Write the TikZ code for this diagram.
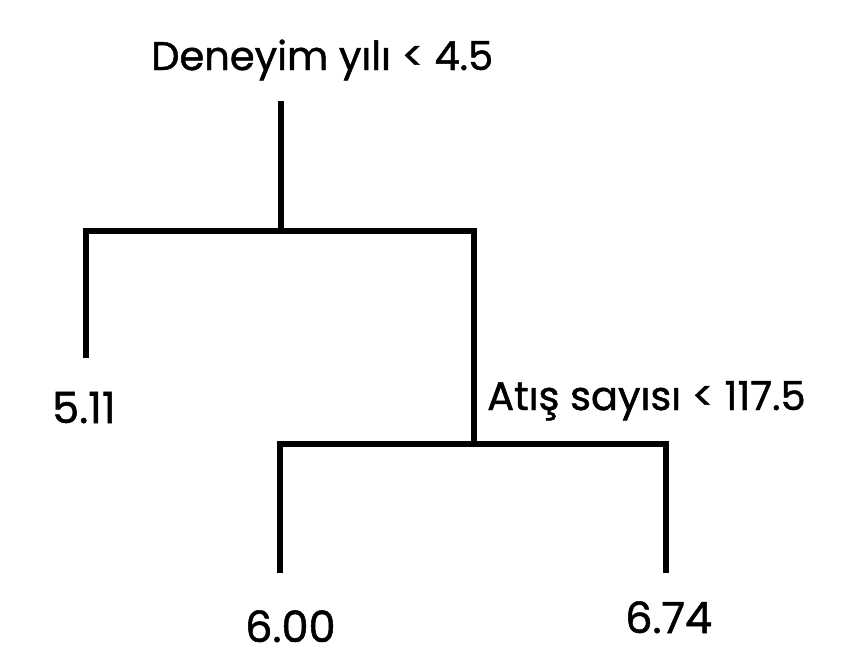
\documentclass[tikz,border=0pt]{standalone}
\usepackage{fontspec}
\setmainfont{Poppins}[FakeBold=1.2]
\begin{document}
\begin{tikzpicture}[x=1pt,y=-1pt,
  lbl/.style={inner sep=0pt, font=\fontsize{40}{44}\selectfont},
  leaf/.style={inner sep=0pt, font=\fontsize{43}{47}\selectfont},
  branch/.style={line width=6pt, line join=miter, line cap=butt, black},
  shade/.style={line width=6pt, line join=miter, line cap=butt, black!25, opacity=0.6}]
\useasboundingbox (0,0) rectangle (864,664);
% labels
\node[lbl, anchor=base west] (root) at (151,70) {Deneyim yılı < 4.5};
\node[lbl, anchor=base west] (split) at (487,410) {Atış sayısı < 117.5};
\node[leaf, anchor=base west] (l1) at (52,423) {5.11};
\node[leaf, anchor=base west] (l2) at (245,642) {6.00};
\node[leaf, anchor=base west] (l3) at (625,633) {6.74};
% junction coordinates
\coordinate (top) at (281,101);
\coordinate (j1) at (281,231);
\coordinate (a1) at (86,231);
\coordinate (b1) at (474,231);
\coordinate (e1) at (86,358);
\coordinate (j2) at (474,444);
\coordinate (a2) at (280,444);
\coordinate (b2) at (666,444);
\coordinate (e2) at (280,573);
\coordinate (e3) at (666,573);
% shadows
\begin{scope}[shift={(3,3)}]
\draw[shade] (top) -- (j1);
\draw[shade] (e1) -- (a1) -- (b1) -- (j2);
\draw[shade] (e2) -- (a2) -- (b2) -- (e3);
\end{scope}
% branches
\draw[branch] (top) -- (j1);
\draw[branch] (e1) -- (a1) -- (b1) -- (j2);
\draw[branch] (e2) -- (a2) -- (b2) -- (e3);
\end{tikzpicture}
\end{document}
